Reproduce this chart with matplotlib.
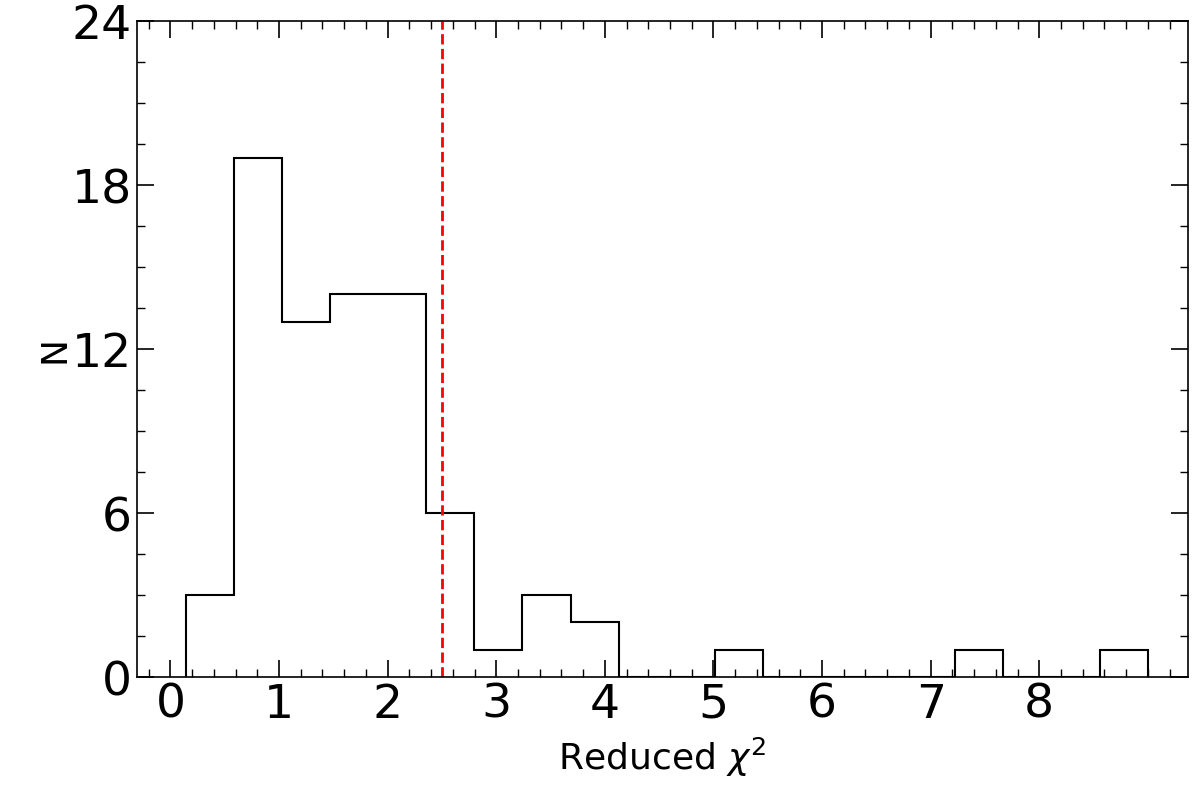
import numpy as np
import matplotlib
matplotlib.use("Agg")
import matplotlib.pyplot as plt
from matplotlib.ticker import MultipleLocator

# histogram of reduced chi^2 values
counts = [3, 19, 13, 14, 14, 6, 1, 3, 2, 0, 0, 1, 0, 0, 0, 0, 1, 0, 0, 1]
edge_lo, edge_hi = 0.14, 9.0
cut = 2.5
xticks = [0, 1, 2, 3, 4, 5, 6, 7, 8]
yticks = [0, 6, 12, 18, 24]

edges = np.linspace(edge_lo, edge_hi, len(counts) + 1)

fig = plt.figure(figsize=(12, 8.12), dpi=100)
ax = fig.add_axes([0.114, 0.165, 0.876, 0.808])
ax.stairs(counts, edges, color="black", linewidth=1.5)
ax.axvline(cut, color="red", linestyle="--", linewidth=2)

ax.set_xlim(-0.31, 9.37)
ax.set_ylim(0, 24)
ax.set_xticks(xticks)
ax.set_yticks(yticks)
ax.xaxis.set_minor_locator(MultipleLocator(0.2))
ax.yaxis.set_minor_locator(MultipleLocator(1.5))
ax.tick_params(which="both", direction="in", top=True, right=True, labelsize=34)
ax.tick_params(which="major", length=12, width=1.2)
ax.tick_params(which="minor", length=6, width=1)
ax.set_xlabel(r"Reduced $\chi^2$", fontsize=26, labelpad=6)
ax.set_ylabel("N", fontsize=26, labelpad=0)
for s in ax.spines.values():
    s.set_linewidth(1.2)

fig.savefig("out.png")
